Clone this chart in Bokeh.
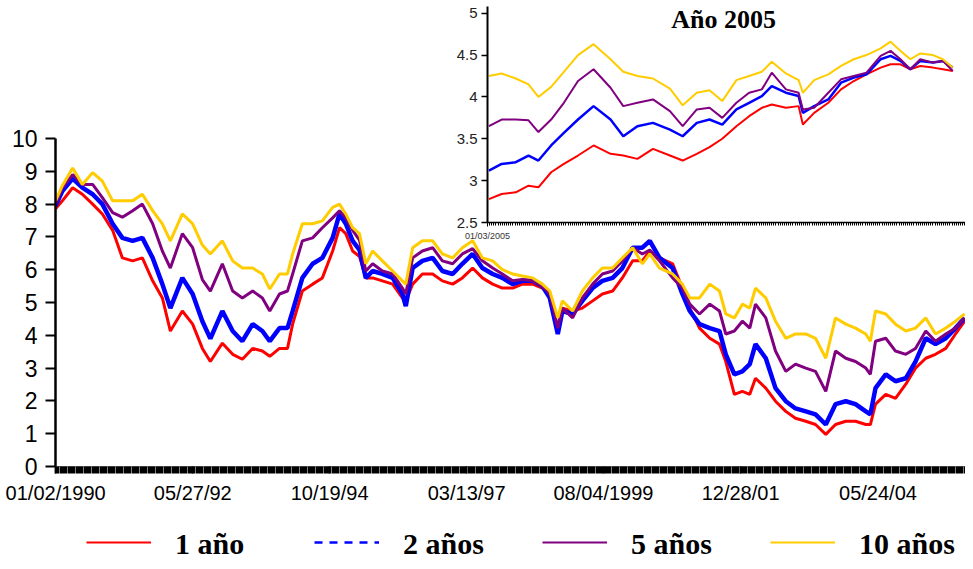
import numpy as np
import pandas as pd
from bokeh.plotting import figure
from bokeh.models import (Range1d, FixedTicker, Legend, LegendItem, Label,
                          Column, ColumnDataSource, InlineStyleSheet)
from bokeh.embed import file_html
from bokeh.resources import INLINE

# ---------------- main chart data (decimal years, % rates) ----------------
years = [1990.00, 1990.12, 1990.30, 1990.47, 1990.65, 1990.82, 1991.00, 1991.17, 1991.35, 1991.52,
         1991.70, 1991.87, 1992.01, 1992.22, 1992.40, 1992.57, 1992.71, 1992.92, 1993.10, 1993.27,
         1993.45, 1993.62, 1993.75, 1993.92, 1994.06, 1994.15, 1994.32, 1994.50, 1994.67, 1994.85,
         1994.97, 1995.08, 1995.20, 1995.32, 1995.43, 1995.55, 1995.72, 1995.90, 1996.07, 1996.13,
         1996.25, 1996.42, 1996.60, 1996.77, 1996.95, 1997.12, 1997.30, 1997.47, 1997.65, 1997.82,
         1998.00, 1998.17, 1998.35, 1998.52, 1998.65, 1998.79, 1998.87, 1999.05, 1999.22, 1999.40,
         1999.57, 1999.75, 1999.92, 2000.10, 2000.27, 2000.40, 2000.57, 2000.80, 2000.97, 2001.10,
         2001.27, 2001.45, 2001.62, 2001.73, 2001.88, 2002.02, 2002.15, 2002.25, 2002.43, 2002.60,
         2002.78, 2002.95, 2003.13, 2003.30, 2003.48, 2003.65, 2003.83, 2004.00, 2004.18, 2004.26,
         2004.35, 2004.53, 2004.70, 2004.88, 2005.05, 2005.23, 2005.40, 2005.58, 2005.75, 2005.91]

rate_1y = [7.86, 8.10, 8.50, 8.30, 8.00, 7.70, 7.20, 6.36, 6.27, 6.36,
           5.66, 5.14, 4.13, 4.74, 4.34, 3.60, 3.20, 3.76, 3.42, 3.27,
           3.60, 3.52, 3.36, 3.60, 3.60, 4.34, 5.35, 5.56, 5.75, 6.57,
           7.28, 7.10, 6.57, 6.40, 5.75, 5.75, 5.66, 5.56, 5.14, 5.05,
           5.56, 5.87, 5.87, 5.66, 5.56, 5.75, 6.05, 5.75, 5.56, 5.44,
           5.44, 5.56, 5.56, 5.44, 5.26, 4.22, 4.83, 4.74, 4.83, 5.05,
           5.26, 5.35, 5.75, 6.27, 6.27, 6.57, 6.36, 6.18, 5.44, 4.83,
           4.22, 3.91, 3.73, 3.20, 2.20, 2.29, 2.20, 2.69, 2.39, 1.99,
           1.68, 1.47, 1.38, 1.28, 0.98, 1.28, 1.38, 1.38, 1.28, 1.28,
           1.90, 2.20, 2.08, 2.51, 3.00, 3.30, 3.42, 3.60, 4.04, 4.43]

rate_2y = [7.95, 8.40, 8.78, 8.50, 8.30, 8.00, 7.40, 6.97, 6.88, 6.97,
           6.36, 5.56, 4.83, 5.75, 5.26, 4.43, 3.90, 4.74, 4.13, 3.82,
           4.34, 4.13, 3.82, 4.22, 4.22, 4.74, 5.75, 6.18, 6.36, 6.97,
           7.70, 7.40, 6.88, 6.60, 5.75, 5.96, 5.87, 5.75, 5.26, 4.89,
           6.05, 6.27, 6.36, 5.96, 5.87, 6.18, 6.48, 6.05, 5.87, 5.75,
           5.56, 5.66, 5.66, 5.50, 5.14, 4.04, 4.74, 4.65, 5.05, 5.44,
           5.66, 5.75, 6.05, 6.67, 6.67, 6.88, 6.36, 6.05, 5.26, 4.74,
           4.34, 4.22, 4.13, 3.42, 2.81, 2.90, 3.12, 3.73, 3.30, 2.39,
           1.99, 1.77, 1.68, 1.59, 1.28, 1.90, 1.99, 1.90, 1.68, 1.59,
           2.39, 2.81, 2.60, 2.69, 3.20, 3.91, 3.73, 3.91, 4.22, 4.53]

rate_5y = [8.00, 8.50, 8.90, 8.60, 8.60, 8.20, 7.74, 7.60, 7.80, 8.00,
           7.40, 6.57, 6.05, 7.10, 6.67, 5.70, 5.35, 6.18, 5.35, 5.14,
           5.35, 5.14, 4.74, 5.26, 5.35, 5.87, 6.88, 6.97, 7.28, 7.58,
           7.80, 7.58, 7.20, 6.90, 5.96, 6.18, 5.96, 5.87, 5.44, 5.26,
           6.36, 6.57, 6.67, 6.27, 6.18, 6.48, 6.64, 6.27, 6.05, 5.87,
           5.66, 5.70, 5.66, 5.50, 5.26, 4.22, 4.83, 4.53, 5.14, 5.56,
           5.87, 5.96, 6.27, 6.67, 6.48, 6.60, 6.27, 5.75, 5.44, 4.95,
           4.65, 4.95, 4.74, 4.04, 4.13, 4.43, 4.22, 4.95, 4.53, 3.52,
           2.90, 3.12, 3.00, 2.90, 2.29, 3.52, 3.30, 3.20, 3.00, 2.81,
           3.82, 3.91, 3.52, 3.42, 3.60, 4.13, 3.82, 4.04, 4.22, 4.53]

rate_10y = [8.10, 8.56, 9.10, 8.60, 8.96, 8.70, 8.10, 8.10, 8.10, 8.30,
            7.80, 7.40, 6.88, 7.70, 7.40, 6.75, 6.48, 6.88, 6.27, 6.05,
            6.05, 5.87, 5.41, 5.87, 5.87, 6.48, 7.40, 7.40, 7.49, 7.90,
            8.00, 7.70, 7.28, 7.10, 6.18, 6.57, 6.27, 5.96, 5.66, 5.56,
            6.67, 6.88, 6.88, 6.48, 6.36, 6.67, 6.88, 6.36, 6.27, 6.00,
            5.87, 5.81, 5.75, 5.56, 5.35, 4.53, 5.05, 4.74, 5.35, 5.75,
            6.05, 6.05, 6.36, 6.67, 6.18, 6.48, 6.05, 5.87, 5.56, 5.14,
            5.14, 5.56, 5.35, 4.65, 4.53, 4.95, 4.83, 5.44, 5.14, 4.43,
            3.91, 4.04, 4.04, 3.91, 3.30, 4.53, 4.34, 4.22, 4.04, 3.82,
            4.74, 4.65, 4.34, 4.13, 4.22, 4.53, 4.04, 4.22, 4.43, 4.65]

tick_years = [1990.003, 1992.402, 1994.797, 1997.195, 1999.589, 2001.989, 2004.393]
tick_labels = ["01/02/1990", "05/27/92", "10/19/94", "03/13/97", "08/04/1999", "12/28/01", "05/24/04"]
y_ticks = [0, 1, 2, 3, 4, 5, 6, 7, 8, 9, 10]

series_names = ["1 año", "2 años", "5 años", "10 años"]
series_colors = ["#FF0000", "#0000FF", "#800080", "#FFCC00"]

# ---------------- inset data (year 2005) ----------------
dates_2005 = ["2005-01-04", "2005-01-13", "2005-01-23", "2005-02-01", "2005-02-08", "2005-02-17",
              "2005-02-26", "2005-03-08", "2005-03-19", "2005-03-31", "2005-04-09", "2005-04-19",
              "2005-04-30", "2005-05-12", "2005-05-21", "2005-05-31", "2005-06-09", "2005-06-18",
              "2005-06-28", "2005-07-07", "2005-07-16", "2005-07-23", "2005-08-02", "2005-08-11",
              "2005-08-14", "2005-08-22", "2005-09-01", "2005-09-10", "2005-09-19", "2005-09-28",
              "2005-10-08", "2005-10-15", "2005-10-22", "2005-10-29", "2005-11-05", "2005-11-14",
              "2005-11-21", "2005-11-28"]
ins_1y = [2.78, 2.84, 2.86, 2.94, 2.92, 3.10, 3.20, 3.30, 3.42, 3.32, 3.30, 3.26, 3.38,
          3.30, 3.24, 3.32, 3.40, 3.50, 3.65, 3.77, 3.87, 3.91, 3.87, 3.89, 3.67, 3.81,
          3.93, 4.09, 4.19, 4.27, 4.35, 4.39, 4.39, 4.33, 4.37, 4.35, 4.33, 4.31]
ins_2y = [3.12, 3.20, 3.22, 3.30, 3.24, 3.42, 3.57, 3.73, 3.89, 3.73, 3.53, 3.65, 3.69,
          3.61, 3.53, 3.69, 3.73, 3.67, 3.85, 3.93, 4.01, 4.13, 4.05, 4.01, 3.81, 3.89,
          3.97, 4.17, 4.23, 4.27, 4.45, 4.49, 4.43, 4.33, 4.43, 4.41, 4.43, 4.35]
ins_5y = [3.65, 3.73, 3.73, 3.72, 3.58, 3.73, 3.93, 4.19, 4.33, 4.11, 3.89, 3.93, 3.97,
          3.83, 3.65, 3.85, 3.87, 3.75, 3.93, 4.05, 4.09, 4.29, 4.09, 4.05, 3.85, 3.87,
          4.05, 4.21, 4.25, 4.29, 4.49, 4.55, 4.45, 4.33, 4.45, 4.41, 4.43, 4.31]
ins_10y = [4.25, 4.28, 4.22, 4.15, 4.00, 4.12, 4.30, 4.50, 4.63, 4.45, 4.30, 4.25, 4.22,
           4.10, 3.90, 4.05, 4.08, 3.95, 4.20, 4.25, 4.30, 4.42, 4.28, 4.20, 4.05, 4.20,
           4.27, 4.37, 4.45, 4.50, 4.58, 4.66, 4.55, 4.45, 4.52, 4.50, 4.45, 4.35]
inset_y_ticks = [2.5, 3, 3.5, 4, 4.5, 5]
inset_y_labels = ["2.5", "3", "3.5", "4", "4.5", "5"]
inset_first_label = "01/03/2005"
inset_title = "Año 2005"

SANS = "Liberation Sans"
SERIF = "Liberation Serif"


def abs_pos(left, top):
    return [InlineStyleSheet(css=":host { position: absolute !important; left: %dpx !important; top: %dpx !important; }" % (left, top))]


# ---------------- main figure ----------------
p = figure(width=965, height=553, output_backend="svg", toolbar_location=None,
           x_range=Range1d(1990.0, 2005.925), y_range=Range1d(0, 10),
           min_border_left=55, min_border_right=0, min_border_top=138, min_border_bottom=87)
p.outline_line_color = None
p.grid.visible = False

src = ColumnDataSource(dict(x=years, r1=rate_1y, r2=rate_2y, r5=rate_5y, r10=rate_10y))
p.line("x", "r1", source=src, line_color=series_colors[0], line_width=3)
p.line("x", "r2", source=src, line_color=series_colors[1], line_width=4.5)
p.line("x", "r5", source=src, line_color=series_colors[2], line_width=3)
p.line("x", "r10", source=src, line_color=series_colors[3], line_width=3)

yax = p.yaxis[0]
yax.ticker = FixedTicker(ticks=y_ticks)
yax.axis_line_width = 2.5
yax.axis_line_color = "black"
yax.major_tick_out = 10
yax.major_tick_in = 0
yax.major_tick_line_width = 2
yax.minor_tick_out = 0
yax.minor_tick_in = 0
yax.major_label_text_font = SANS
yax.major_label_text_font_size = "23px"
yax.major_label_text_color = "black"
yax.major_label_standoff = 8

xax = p.xaxis[0]
minor = list(np.arange(1990.0, 2005.93, 0.02))
xax.ticker = FixedTicker(ticks=tick_years, minor_ticks=minor)
xax.major_label_overrides = dict(zip(tick_years, tick_labels))
xax.axis_line_color = "#777777"
xax.axis_line_width = 1
xax.major_tick_out = 7
xax.major_tick_in = 0
xax.major_tick_line_width = 1.5
xax.major_tick_line_color = "black"
xax.minor_tick_out = 7
xax.minor_tick_in = 0
xax.minor_tick_line_width = 1.5
xax.minor_tick_line_color = "black"
xax.major_label_text_font = SANS
xax.major_label_text_font_size = "20px"
xax.major_label_text_color = "black"
xax.major_label_standoff = 8

# ---------------- legend strip (same series, legend only) ----------------
r = figure(width=965, height=55, output_backend="svg", toolbar_location=None,
           x_range=Range1d(1990.0, 2005.925), y_range=Range1d(100, 110),
           x_axis_location=None, y_axis_location=None,
           min_border_left=0, min_border_right=0, min_border_top=0, min_border_bottom=0)
r.grid.visible = False
r.outline_line_color = None
r.background_fill_alpha = 0
r.border_fill_alpha = 0
r.stylesheets = abs_pos(0, 506)

# glyph-only legend (visible sample lines)
g1 = r.line("x", "r1", source=src, line_color=series_colors[0], line_width=2)
g2 = r.line("x", "r2", source=src, line_color=series_colors[1], line_width=2.5, line_dash="8 7")
g5 = r.line("x", "r5", source=src, line_color=series_colors[2], line_width=2)
g10 = r.line("x", "r10", source=src, line_color=series_colors[3], line_width=2)
# text-only legend (transparent samples)
t1 = r.line("x", "r1", source=src, line_alpha=0)
t2 = r.line("x", "r2", source=src, line_alpha=0)
t5 = r.line("x", "r5", source=src, line_alpha=0)
t10 = r.line("x", "r10", source=src, line_alpha=0)

common = dict(orientation="horizontal", glyph_width=65, label_standoff=24, spacing=0,
              label_width=139, padding=0, margin=0, border_line_color=None,
              background_fill_alpha=0, label_text_font=SERIF, label_text_font_style="bold",
              label_text_font_size="30px", label_text_color="black")

legend_lines = Legend(items=[LegendItem(label=" ", renderers=[g]) for g in (g1, g2, g5, g10)],
                      location=(31, 9), glyph_height=20, label_height=20, **common)
legend_text = Legend(items=[LegendItem(label=n, renderers=[t]) for n, t in
                            zip(series_names, (t1, t2, t5, t10))],
                     location=(31, 0), glyph_height=34, label_height=34, **common)
r.add_layout(legend_lines, "center")
r.add_layout(legend_text, "center")

# ---------------- inset figure ----------------
day0 = pd.Timestamp("2005-01-03")
ins_x = [(pd.Timestamp(d) - day0).days for d in dates_2005]

q = figure(width=533, height=250, output_backend="svg", toolbar_location=None,
           x_range=Range1d(0, 338), y_range=Range1d(2.5, 5.08),
           min_border_left=48, min_border_right=0, min_border_top=6, min_border_bottom=28)
q.outline_line_color = None
q.grid.visible = False
q.background_fill_alpha = 0
q.border_fill_alpha = 0
q.stylesheets = abs_pos(432, 0)

isrc = ColumnDataSource(dict(x=ins_x, r1=ins_1y, r2=ins_2y, r5=ins_5y, r10=ins_10y))
q.line("x", "r1", source=isrc, line_color=series_colors[0], line_width=2)
q.line("x", "r2", source=isrc, line_color=series_colors[1], line_width=2.5)
q.line("x", "r5", source=isrc, line_color=series_colors[2], line_width=2)
q.line("x", "r10", source=isrc, line_color=series_colors[3], line_width=2)

qy = q.yaxis[0]
qy.ticker = FixedTicker(ticks=inset_y_ticks)
qy.major_label_overrides = dict(zip(inset_y_ticks, inset_y_labels))
qy.axis_line_width = 2
qy.axis_line_color = "black"
qy.major_tick_out = 6
qy.major_tick_in = 0
qy.major_tick_line_width = 1.5
qy.minor_tick_out = 0
qy.minor_tick_in = 0
qy.major_label_text_font = SANS
qy.major_label_text_font_size = "15px"
qy.major_label_text_color = "#222222"
qy.major_label_standoff = 4

qx = q.xaxis[0]
qx.ticker = FixedTicker(ticks=[0], minor_ticks=list(np.arange(0, 338, 1.5)))
qx.major_label_overrides = {0: inset_first_label}
qx.axis_line_color = "black"
qx.axis_line_width = 1.5
qx.major_tick_out = 4
qx.major_tick_in = 0
qx.minor_tick_out = 3
qx.minor_tick_in = 0
qx.minor_tick_line_width = 1
qx.minor_tick_line_color = "black"
qx.major_label_text_font = SANS
qx.major_label_text_font_size = "9px"
qx.major_label_text_color = "#333333"
qx.major_label_standoff = 4

q.add_layout(Label(x=167, y=4.92, text=inset_title, text_align="center", text_baseline="middle",
                   text_font=SERIF, text_font_style="bold", text_font_size="26px",
                   text_color="black"))

layout = Column(children=[p, q, r],
                stylesheets=[InlineStyleSheet(css=":host { position: relative !important; }")])

open("out.html", "w").write(file_html(layout, INLINE))
